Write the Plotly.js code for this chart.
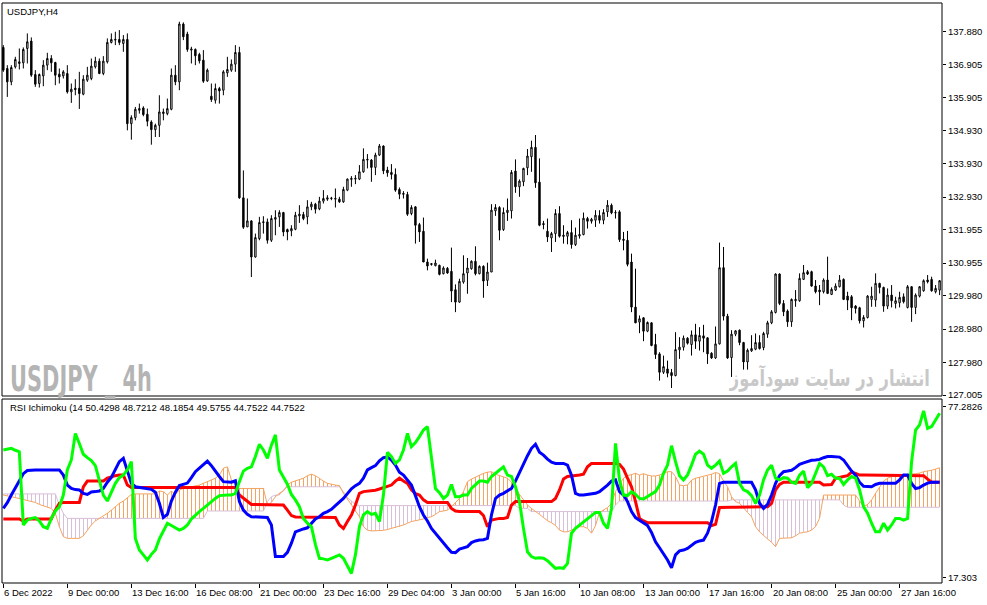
<!DOCTYPE html>
<html><head><meta charset="utf-8">
<script src="https://cdn.plot.ly/plotly-3.0.1.min.js"></script>
<style>html,body{margin:0;padding:0;background:#fff;}#chart{width:987px;height:605px;}</style>
</head><body><div id="chart"></div>
<script>
// ---- USDJPY H4 candles ----
const openP = [
137.41,136.78,136.38,136.83,136.93,136.95,137.38,137.60,136.60,136.33,
136.56,136.88,137.08,136.96,136.61,136.56,136.63,136.08,136.19,136.19,
136.01,136.43,136.48,136.83,137.00,136.63,136.98,137.56,137.63,137.65,
137.53,137.65,135.13,135.31,135.53,135.60,135.41,135.18,134.95,135.08,
135.43,135.43,135.56,136.58,136.38,138.11,137.81,137.33,137.35,137.20,
137.03,136.41,135.95,135.83,136.18,136.13,136.65,136.73,136.91,137.26,
132.91,132.04,132.22,131.14,131.69,132.17,132.19,131.64,132.27,132.34,
132.47,131.96,131.92,131.97,132.37,132.41,132.34,132.64,132.72,132.58,
132.81,132.87,132.89,132.87,132.87,132.79,133.14,133.46,133.47,133.47,
133.69,134.04,134.04,133.82,134.19,134.46,133.74,133.67,133.61,133.16,
133.04,133.01,132.44,132.64,132.11,131.91,130.99,130.94,130.88,130.89,
130.64,130.80,130.71,130.16,129.79,130.39,130.66,130.79,131.01,130.64,
130.86,130.44,130.69,132.52,132.62,131.96,132.47,132.52,133.71,133.24,
133.39,133.81,134.14,134.42,133.38,132.14,131.91,131.71,131.84,132.44,
131.79,131.76,131.87,131.51,131.77,131.81,132.29,132.21,132.24,132.38,
132.24,132.49,132.69,132.47,132.49,131.67,131.64,130.99,129.64,129.19,
129.32,128.92,129.17,128.52,128.24,127.69,127.79,127.68,127.59,128.36,
128.44,128.71,128.52,128.81,128.62,128.78,128.72,128.26,128.12,128.54,
130.82,129.37,128.13,128.83,128.95,128.58,128.00,128.33,128.38,128.58,
128.43,128.83,129.17,129.48,130.63,129.75,129.52,129.20,129.83,129.83,
130.47,130.70,130.70,130.27,130.15,130.10,130.45,130.02,130.15,130.25,
130.47,129.97,129.95,129.67,129.62,129.23,129.33,129.87,129.85,130.35,
130.23,129.67,130.00,129.75,129.77,129.95,129.63,130.25,129.63,129.97,
130.13,130.45,130.47,130.10,130.15];
const highP = [
137.48,136.88,136.88,137.13,137.38,137.41,137.83,137.71,136.73,136.63,
137.03,137.25,137.18,136.98,136.78,136.73,136.88,136.33,136.46,136.68,
136.58,136.83,137.08,137.13,137.08,137.15,137.68,137.83,137.88,137.93,
137.78,137.83,135.38,135.63,135.73,135.65,135.58,135.23,135.13,135.98,
135.58,135.88,136.78,136.88,138.18,138.16,137.88,137.43,137.38,137.25,
137.33,136.78,136.33,136.33,136.23,136.73,137.13,137.05,137.48,137.43,
133.73,132.89,132.24,131.84,132.34,132.36,132.29,132.39,132.54,132.54,
132.49,131.99,132.09,132.49,132.69,132.49,132.84,132.79,132.76,132.94,
133.14,132.99,132.94,133.19,132.94,133.24,133.49,133.56,133.59,133.89,
134.39,134.22,134.07,134.26,134.52,134.48,133.84,133.92,133.79,133.22,
133.11,133.09,132.69,132.66,132.16,132.32,131.09,130.96,131.06,130.91,
130.86,130.84,131.42,130.32,130.49,131.19,131.11,131.04,131.46,130.89,
130.89,130.97,132.72,132.72,132.66,132.62,132.89,133.74,134.06,133.46,
133.81,134.37,134.62,134.79,134.09,132.22,132.29,131.89,132.57,132.66,
132.09,131.92,132.24,132.02,132.29,132.47,132.34,132.31,132.54,132.54,
132.57,132.84,132.74,132.54,132.54,131.89,131.92,131.24,130.79,129.39,
129.34,129.21,129.19,128.84,128.29,128.19,128.04,127.79,128.89,128.74,
128.79,128.74,128.94,129.14,129.04,129.11,128.74,128.29,129.06,131.57,
131.44,129.44,128.95,128.95,128.97,128.60,128.40,128.80,128.85,128.80,
128.90,129.23,129.55,130.65,130.65,129.85,129.57,129.90,130.15,130.65,
130.90,130.75,130.73,130.45,130.30,130.50,131.15,130.23,130.35,130.60,
130.50,130.10,130.00,129.70,129.65,129.40,130.00,130.25,130.65,130.37,
130.25,130.20,130.30,129.95,130.10,130.05,130.30,130.27,130.05,130.27,
130.47,130.60,130.55,130.30,130.45];
const lowP = [
136.68,135.93,136.28,136.78,136.75,136.78,136.93,136.53,136.23,136.21,
136.25,136.73,136.68,136.28,136.33,136.48,136.03,135.75,135.98,135.57,
135.98,136.38,136.43,136.78,136.61,136.58,136.93,137.53,137.48,137.48,
137.28,134.93,134.65,135.23,135.43,135.35,135.05,134.50,134.73,134.73,
135.23,135.38,135.53,136.28,136.13,137.63,137.28,136.93,136.88,136.93,
136.35,136.38,135.78,135.73,135.73,135.98,136.53,136.68,136.68,132.88,
131.98,132.04,130.54,131.12,131.64,131.84,131.54,131.59,131.79,132.04,
131.76,131.64,131.76,131.94,132.16,132.24,132.12,132.54,132.44,132.54,
132.74,132.82,132.84,132.62,132.76,132.76,133.11,133.24,133.32,133.44,
133.66,133.79,133.39,133.59,134.16,133.62,133.54,133.46,133.09,132.87,
132.89,132.37,132.39,131.54,131.59,130.99,130.74,130.88,130.86,130.59,
130.62,130.64,129.79,129.49,129.77,130.34,130.04,130.76,130.59,130.62,
129.92,130.27,130.69,132.37,131.64,131.92,132.22,132.29,133.06,132.94,
133.26,133.59,133.69,133.21,132.06,131.97,131.59,131.29,131.59,131.72,
131.54,131.52,131.39,131.47,131.69,131.79,131.99,132.14,132.04,132.14,
132.12,132.34,132.42,132.29,131.59,131.34,130.86,129.49,129.16,128.86,
128.62,128.89,128.47,128.09,127.44,127.64,127.54,127.22,127.57,128.09,
128.34,128.52,128.19,128.39,128.34,128.29,127.94,128.09,128.09,128.52,
129.24,128.09,127.55,128.77,128.50,127.77,127.77,128.30,128.35,128.37,
128.35,128.72,129.13,129.45,129.70,129.37,129.05,129.05,129.65,129.80,
130.45,130.60,130.25,130.05,129.70,130.05,130.03,130.00,130.12,130.23,
129.85,129.55,129.25,129.45,129.15,129.03,129.30,129.65,129.65,130.05,
129.50,129.58,129.63,129.60,129.63,129.75,129.60,129.20,129.43,129.93,
130.10,130.35,130.10,130.05,130.00];
const closeP = [
136.73,136.38,136.81,137.05,136.98,137.35,137.58,136.58,136.31,136.60,
136.88,137.08,136.95,136.58,136.53,136.68,136.08,136.16,136.15,136.03,
136.46,136.58,136.85,137.00,136.63,137.00,137.56,137.65,137.65,137.56,
137.65,135.13,135.31,135.56,135.58,135.40,135.20,134.95,135.08,135.48,
135.48,135.58,136.58,136.38,138.11,137.73,137.35,137.36,137.16,137.01,
136.40,136.73,135.85,136.18,136.11,136.68,136.75,136.91,137.26,132.91,
132.03,132.22,131.14,131.72,132.17,132.19,131.64,132.29,132.32,132.47,
131.89,131.89,131.99,132.39,132.42,132.29,132.64,132.72,132.57,132.81,
132.89,132.91,132.90,132.89,132.79,133.16,133.47,133.49,133.49,133.69,
134.06,134.06,133.82,134.19,134.46,133.72,133.66,133.61,133.14,133.02,
133.02,132.42,132.62,132.09,131.89,130.99,130.87,130.92,130.96,130.62,
130.81,130.66,130.12,129.79,130.41,130.64,130.81,131.01,130.64,130.86,
130.42,130.69,132.54,132.62,131.94,132.47,132.54,133.67,133.24,133.41,
133.79,134.16,134.42,133.36,132.09,132.11,131.74,131.84,132.44,131.76,
131.76,131.87,131.51,131.79,131.81,132.30,132.21,132.27,132.39,132.24,
132.47,132.69,132.46,132.46,131.66,131.64,130.92,129.64,129.17,129.29,
128.92,129.18,128.49,128.22,127.69,127.86,127.66,127.59,128.37,128.44,
128.71,128.56,128.81,128.62,128.79,128.71,128.24,128.12,128.54,130.82,
129.37,128.12,128.83,128.93,128.58,128.00,128.35,128.40,128.58,128.40,
128.85,129.17,129.50,130.63,129.75,129.50,129.20,129.87,129.87,130.50,
130.67,130.63,130.27,130.10,130.10,130.45,130.05,130.17,130.27,130.45,
129.87,129.85,129.62,129.60,129.23,129.33,129.97,129.97,130.35,130.23,
129.67,130.00,129.83,129.83,129.93,129.80,130.25,129.63,130.00,130.25,
130.43,130.40,130.13,130.20,130.43];

// ---- RSI Ichimoku indicator ----
const rsiLine = [
62.1,62.4,62.7,62.0,61.5,35.8,37.5,38.1,38.4,37.2,
35.2,34.6,38.1,40.7,42.2,46.3,55.1,58.6,67.9,64.4,
60.6,59.4,58.4,56.6,51.6,46.3,44.2,47.2,50.4,52.4,
53.3,55.1,58.0,31.1,27.0,25.3,23.5,25.5,27.0,30.9,
33.4,36.4,35.6,34.9,34.0,34.6,35.8,37.9,39.3,40.5,
41.6,42.8,44.2,45.1,46.1,46.3,46.3,46.3,46.9,51.0,
54.7,55.7,56.2,59.8,64.1,62.1,59.2,63.8,67.4,55.1,
52.8,50.1,46.5,44.6,42.2,38.1,36.4,35.2,29.0,24.1,
23.9,23.5,24.1,24.7,25.3,24.1,21.2,18.8,25.3,35.2,
39.3,40.5,39.5,39.9,37.0,46.3,61.3,59.8,57.4,58.6,
62.1,67.9,63.3,64.7,66.8,69.1,70.3,60.3,48.6,47.1,
45.1,46.3,50.0,45.7,45.7,46.3,46.3,48.6,50.0,51.2,
51.2,50.8,52.8,53.9,55.1,56.2,53.3,52.8,49.2,44.0,
34.6,26.4,24.7,24.1,24.3,24.1,23.3,21.8,20.6,20.8,
20.6,22.3,32.9,34.6,35.8,36.7,38.1,39.1,40.2,40.2,
36.4,34.6,41.6,64.4,51.6,46.3,46.1,47.5,46.5,45.1,
44.9,45.7,46.5,47.5,49.8,53.9,56.8,63.6,58.0,53.1,
51.6,53.3,56.8,60.6,61.7,60.6,56.8,55.7,56.8,58.2,
53.9,54.7,56.2,57.4,50.4,48.1,47.5,46.1,43.4,46.3,
51.6,55.1,56.8,52.2,51.6,52.4,52.2,50.8,50.4,53.3,
54.7,48.9,50.4,53.9,57.4,56.2,53.1,53.6,52.2,52.2,
50.0,51.6,52.8,52.2,48.1,42.2,39.9,36.4,33.4,33.4,
36.4,34.0,35.8,38.1,38.1,37.5,38.1,58.0,69.1,70.9,
75.8,69.7,70.3,72.6,75.0];
const blueLine = [
41.6,43.6,46.3,48.9,51.6,53.8,54.9,55.1,55.1,55.1,
55.1,55.1,55.1,55.1,55.1,53.3,49.8,48.6,48.2,48.1,
46.9,46.5,47.4,47.5,47.7,48.6,50.8,52.5,55.4,58.0,
59.2,55.1,50.4,49.2,49.0,48.9,48.6,48.3,47.3,43.4,
38.4,39.5,44.2,47.3,49.6,50.1,50.5,52.4,54.5,55.7,
56.8,58.2,56.6,54.5,52.8,51.0,50.8,50.8,51.3,44.0,
41.0,39.5,38.7,38.6,38.5,38.4,38.4,35.8,24.7,24.7,
24.7,26.2,29.4,33.4,34.0,34.4,34.8,36.4,37.9,38.7,
39.9,40.5,41.3,42.6,43.7,45.1,46.8,48.5,49.6,50.4,
52.2,55.1,55.9,56.6,58.3,59.4,59.6,58.6,56.8,54.3,
53.3,51.6,49.8,46.1,42.2,39.3,37.2,34.6,32.9,30.8,
29.4,27.8,26.2,26.1,27.3,27.8,28.2,29.6,30.2,30.5,
30.6,31.1,39.3,45.1,46.3,46.9,47.7,48.6,51.2,54.3,
56.8,60.1,62.7,64.1,61.3,60.3,58.9,57.8,57.4,57.4,
57.4,56.8,53.3,46.9,46.3,46.3,46.5,46.9,46.9,47.5,
48.6,49.8,51.2,51.6,47.5,46.3,44.0,40.5,38.4,37.5,
36.4,35.6,33.2,29.9,27.8,25.8,23.5,20.8,25.3,26.7,
27.0,27.6,28.5,29.7,30.2,30.5,32.9,37.0,42.8,50.4,
50.8,50.8,50.8,50.8,50.8,50.8,50.8,50.8,48.1,43.4,
41.6,43.0,46.3,50.4,53.1,54.5,54.7,55.0,55.9,57.1,
57.6,58.0,58.5,58.6,58.8,59.4,59.8,59.8,59.8,59.6,
58.6,56.6,54.7,53.3,50.8,49.4,49.2,49.2,50.0,50.4,
50.4,50.4,50.4,50.4,51.6,53.3,53.3,50.4,48.6,48.9,
49.8,50.5,50.8,50.8,50.8];
const redLine = [
37.9,37.9,37.9,37.9,37.9,37.2,37.9,37.9,37.9,37.9,
37.9,37.9,37.9,41.0,43.4,43.7,43.7,43.7,43.7,43.7,
49.2,51.2,51.2,51.2,51.2,51.2,52.2,52.7,53.1,53.3,
53.3,49.8,48.9,48.9,48.9,48.9,48.9,48.9,48.9,48.9,
48.9,48.9,48.9,48.9,48.9,48.9,48.9,48.9,48.9,48.9,
48.9,48.9,48.9,48.9,48.9,48.9,48.9,48.9,48.9,46.3,
45.1,44.2,43.0,43.0,43.0,43.0,43.0,43.0,43.0,43.0,
42.8,41.0,39.1,38.6,38.6,38.6,38.6,38.6,38.6,38.6,
38.6,38.6,38.5,38.4,35.8,34.6,37.0,39.3,42.8,46.9,
47.5,47.6,47.7,48.0,48.4,48.9,49.2,49.8,51.2,52.2,
51.2,50.4,48.1,46.8,46.3,44.6,43.7,43.7,43.7,43.7,
43.7,43.7,41.6,40.7,40.5,40.5,40.5,40.5,40.5,40.5,
39.1,35.2,37.5,37.9,38.1,38.1,38.4,42.8,44.0,44.0,
44.0,44.0,44.0,44.0,44.0,44.0,44.0,44.0,45.1,48.1,
51.9,52.8,53.0,53.1,53.3,53.6,56.2,57.4,57.4,57.4,
57.4,57.4,57.4,57.4,57.1,55.4,52.2,49.2,44.0,38.1,
37.2,36.6,36.6,36.6,36.6,36.6,36.6,36.6,36.6,36.6,
36.6,36.6,36.6,36.6,36.6,36.6,36.6,35.6,36.0,41.9,
42.0,42.0,42.0,42.0,42.0,42.0,42.0,42.0,42.0,42.0,
42.0,42.2,43.4,48.1,50.0,50.8,50.8,50.8,50.8,50.8,
50.8,50.8,50.8,51.0,50.8,49.8,49.8,50.0,52.2,52.6,
52.8,53.1,54.3,53.9,53.3,53.3,53.3,53.3,53.3,53.3,
53.3,53.3,53.3,53.3,53.3,53.3,53.3,53.3,53.3,53.3,
53.1,51.9,50.8,50.8,50.8];
const spanA = [
46.3,46.1,45.7,45.4,45.1,44.8,44.4,44.2,43.7,43.0,
42.6,42.2,41.6,39.9,35.2,31.7,31.1,31.1,31.1,31.1,
32.0,34.0,35.8,37.2,38.1,38.7,39.9,41.0,42.2,43.4,
44.2,45.4,46.5,46.7,46.7,46.7,46.7,46.7,46.7,47.7,
47.5,46.3,47.7,46.5,48.1,48.6,48.9,49.2,49.6,49.8,
50.4,51.0,51.6,52.2,53.3,55.7,56.2,51.6,49.8,48.6,
48.6,48.6,48.6,48.6,48.6,48.6,42.8,43.7,45.7,46.9,
47.7,49.8,50.8,51.2,51.6,52.2,53.1,53.6,53.1,52.0,
51.2,50.4,50.0,49.8,49.6,46.9,44.9,42.8,40.5,38.7,
35.2,34.0,33.7,33.7,33.7,33.9,34.2,34.6,34.8,35.2,
35.8,36.4,37.0,37.3,37.5,37.9,38.4,38.7,39.5,40.5,
40.7,41.0,42.2,43.7,45.1,47.5,51.0,51.9,52.6,53.3,
53.9,54.3,54.5,53.6,53.1,52.6,52.2,50.8,49.2,46.5,
44.6,42.8,41.6,40.7,39.5,38.4,37.3,36.6,35.6,34.0,
33.4,33.4,34.0,34.6,35.2,35.2,34.6,32.9,35.6,40.2,
41.0,41.9,43.4,47.5,50.0,52.2,53.1,53.6,53.9,53.3,
53.8,53.3,53.0,53.0,53.3,53.9,54.5,54.5,52.8,49.8,
49.6,49.8,51.5,52.2,52.5,52.8,53.1,53.6,54.2,53.8,
51.2,49.2,45.7,44.0,43.4,41.6,40.2,38.7,35.2,33.4,
32.3,30.9,29.7,28.2,31.1,31.1,31.1,31.3,32.0,32.9,
33.2,33.4,34.0,35.2,38.1,46.3,46.3,46.3,46.3,46.3,
46.3,46.3,46.3,46.3,44.2,42.2,43.0,44.6,46.9,49.2,
51.2,52.2,52.8,53.1,53.3,53.4,53.6,53.7,53.8,54.0,
54.5,54.7,55.0,55.4,55.9];
const spanB = [
46.7,46.7,46.7,46.7,46.7,46.7,46.7,46.7,46.7,46.7,
46.7,46.7,46.7,46.7,42.8,39.9,38.1,38.1,38.1,38.1,
38.1,38.1,38.1,38.1,38.1,38.1,38.1,38.1,38.1,38.1,
38.1,38.1,38.1,38.1,38.1,38.1,38.1,38.1,38.1,38.1,
38.1,38.1,38.1,38.1,38.1,38.1,38.1,38.1,38.1,38.1,
38.1,40.7,40.7,40.7,40.7,40.7,40.7,40.7,40.7,40.7,
40.7,40.7,40.7,40.7,40.7,40.7,44.0,45.7,46.3,46.3,
48.1,49.2,49.2,49.2,49.2,49.2,49.2,49.2,49.2,49.2,
49.2,49.2,49.2,49.2,49.2,47.5,45.4,44.2,43.0,42.6,
42.6,42.6,42.6,42.6,42.6,42.6,42.6,42.6,42.6,42.6,
42.6,42.6,42.6,42.6,42.6,42.6,42.6,42.6,42.6,42.6,
42.6,42.6,42.6,42.6,42.6,42.6,42.6,42.6,42.6,42.6,
42.6,42.6,42.6,42.6,42.6,42.6,42.6,42.6,42.6,41.6,
41.6,41.6,40.5,40.5,40.5,40.5,40.5,40.5,40.5,40.5,
40.5,40.5,40.5,40.5,40.5,40.5,40.5,40.5,40.5,40.5,
40.5,40.5,40.5,42.8,44.2,44.2,44.2,44.2,44.2,44.2,
44.2,44.2,44.2,44.2,44.2,44.2,44.2,44.2,44.2,44.2,
44.2,44.2,44.2,44.2,44.2,44.2,44.2,44.2,44.2,44.2,
44.2,44.2,44.6,44.6,44.6,44.6,44.6,44.6,44.6,44.6,
44.6,44.6,44.6,44.6,44.6,44.6,44.6,44.6,44.6,44.6,
44.6,44.6,44.6,44.6,44.6,44.6,44.6,44.6,44.6,44.6,
42.8,42.0,42.0,42.0,42.0,42.0,42.0,42.0,42.0,42.0,
42.0,42.0,42.0,42.0,42.0,42.0,42.0,42.0,42.0,42.0,
42.0,42.0,42.0,42.0,42.0];

// ---- axis labels ----
const dateTickIdx = [0,16,32,48,64,80,96,112,128,144,160,176,192,208,224];
const dateTickText = ["6 Dec 2022","9 Dec 00:00","13 Dec 16:00","16 Dec 08:00","21 Dec 00:00","23 Dec 16:00","29 Dec 04:00","3 Jan 00:00","5 Jan 16:00","10 Jan 08:00","13 Jan 00:00","17 Jan 16:00","20 Jan 08:00","25 Jan 00:00","27 Jan 16:00"];
const priceTickVals = [137.880,136.905,135.905,134.930,133.930,132.930,131.955,130.955,129.980,128.980,127.980,127.005];
const priceTickText = ["137.880","136.905","135.905","134.930","133.930","132.930","131.955","130.955","129.980","128.980","127.980","127.005"];
const indTickVals = [77.2826, 17.303];
const indTickText = ["77.2826", "17.303"];
const legendText = "RSI Ichimoku (14 50.4298 48.7212 48.1854 49.5755 44.7522 44.7522";

const idx = closeP.map((_, i) => i);
const hatchBase = spanA.map((a, i) => Math.min(a, spanB[i]));
const hatchLen = spanA.map((a, i) => Math.abs(a - spanB[i]));
const hatchCol = spanA.map((a, i) => a >= spanB[i] ? '#F4A460' : '#D8BFD8');

const FONT = 'Liberation Sans, Arial, sans-serif';

const data = [
  {type:'bar', x: idx, y: hatchLen, base: hatchBase, width: 0.25,
   marker:{color: hatchCol, line:{width:0}}, xaxis:'x', yaxis:'y', hoverinfo:'skip'},
  {type:'scatter', mode:'lines', x: idx, y: spanB, line:{color:'#D8BFD8', width:1}, xaxis:'x', yaxis:'y'},
  {type:'scatter', mode:'lines', x: idx, y: spanA, line:{color:'#F4A460', width:1}, xaxis:'x', yaxis:'y'},
  {type:'scatter', mode:'lines', x: idx, y: redLine, line:{color:'#FF0000', width:3}, xaxis:'x', yaxis:'y'},
  {type:'scatter', mode:'lines', x: idx, y: blueLine, line:{color:'#0000FF', width:3}, xaxis:'x', yaxis:'y'},
  {type:'scatter', mode:'lines', x: idx, y: rsiLine, line:{color:'#00FF00', width:3}, xaxis:'x', yaxis:'y'},
  {type:'candlestick', x: idx, open: openP, high: highP, low: lowP, close: closeP,
   xaxis:'x2', yaxis:'y2', whiskerwidth: 0,
   increasing:{line:{color:'#000000', width:1}, fillcolor:'#FFFFFF'},
   decreasing:{line:{color:'#000000', width:1}, fillcolor:'#000000'}}
];

const annotations = [
  {text:'USDJPY,H4', xref:'paper', yref:'paper', x:0.0035, y:0.986, xanchor:'left', yanchor:'middle',
   showarrow:false, font:{family:FONT, size:9.5, color:'#000'}},
  {text:'USDJPY _ 4h', xref:'paper', yref:'paper', x:0.0064, y:0.352, xanchor:'left', yanchor:'middle',
   showarrow:false, font:{family:'Liberation Sans Narrow, DejaVu Sans Condensed, Liberation Sans, sans-serif', size:36, weight:700, color:'#B4B4B4'}},
  {text:'انتشار در سایت سودآموز', xref:'paper', yref:'paper', x:0.7713, y:0.353, xanchor:'left', yanchor:'middle',
   showarrow:false, font:{family:'DejaVu Sans, sans-serif', size:22, weight:700, color:'#C8C8C8'}},
  {text: legendText, xref:'paper', yref:'paper', x:0.0064, y:0.3034, xanchor:'left', yanchor:'middle',
   showarrow:false, font:{family:FONT, size:9.5, color:'#000'}}
];
dateTickIdx.forEach((t, k) => {
  annotations.push({text: dateTickText[k], xref:'x', yref:'paper', x: t, y: -0.016,
    xanchor:'left', yanchor:'middle', xshift:-1, showarrow:false,
    font:{family:FONT, size:9.5, color:'#000'}});
});

const layout = {
  width: 987, height: 605,
  margin: {l:2, r:45, t:3, b:22, pad:0},
  paper_bgcolor:'#FFFFFF', plot_bgcolor:'#FFFFFF',
  showlegend:false, boxgap:0.5, bargap:0,
  xaxis: {anchor:'y', domain:[0,1], range:[-0.33, 234.6], showgrid:false, zeroline:false,
          showticklabels:false, ticks:'outside', ticklen:4, tickcolor:'#000', tickwidth:1,
          tickmode:'array', tickvals: dateTickIdx, showline:false},
  xaxis2: {anchor:'y2', matches:'x', showgrid:false, zeroline:false, showticklabels:false,
           ticks:'', rangeslider:{visible:false}, showline:false},
  yaxis: {domain:[0, 0.3172], range:[15.44, 79.98], side:'right', showgrid:false, zeroline:false,
          tickmode:'array', tickvals: indTickVals, ticktext: indTickText, ticks:'outside', ticklen:3,
          tickcolor:'#000', tickfont:{family:FONT, size:9.5, color:'#000'}, showline:false},
  yaxis2: {domain:[0.3224, 1], range:[126.98, 138.74], side:'right', showgrid:false, zeroline:false,
           tickmode:'array', tickvals: priceTickVals, ticktext: priceTickText, ticks:'outside', ticklen:3,
           tickcolor:'#000', tickfont:{family:FONT, size:9.5, color:'#000'}, showline:false},
  shapes: [
    {type:'rect', xref:'paper', yref:'paper', x0:0, x1:1, y0:0.3224, y1:1, line:{color:'#000', width:1}},
    {type:'rect', xref:'paper', yref:'paper', x0:0, x1:1, y0:0, y1:0.3172, line:{color:'#000', width:1}}
  ],
  annotations: annotations
};

function fitText(str, w) {
  document.querySelectorAll('.annotation-text').forEach(t => {
    if (t.textContent === str) {
      const b = t.getBBox();
      if (b.width > 0) {
        const s = w / b.width;
        t.setAttribute('transform', 'translate(' + b.x + ',0) scale(' + s + ',1) translate(' + (-b.x) + ',0)');
      }
    }
  });
}

Plotly.newPlot('chart', data, layout, {staticPlot:true, displayModeBar:false}).then(() => {
  fitText('USDJPY _ 4h', 142);
  fitText('انتشار در سایت سودآموز', 201);
});
</script>
</body></html>
